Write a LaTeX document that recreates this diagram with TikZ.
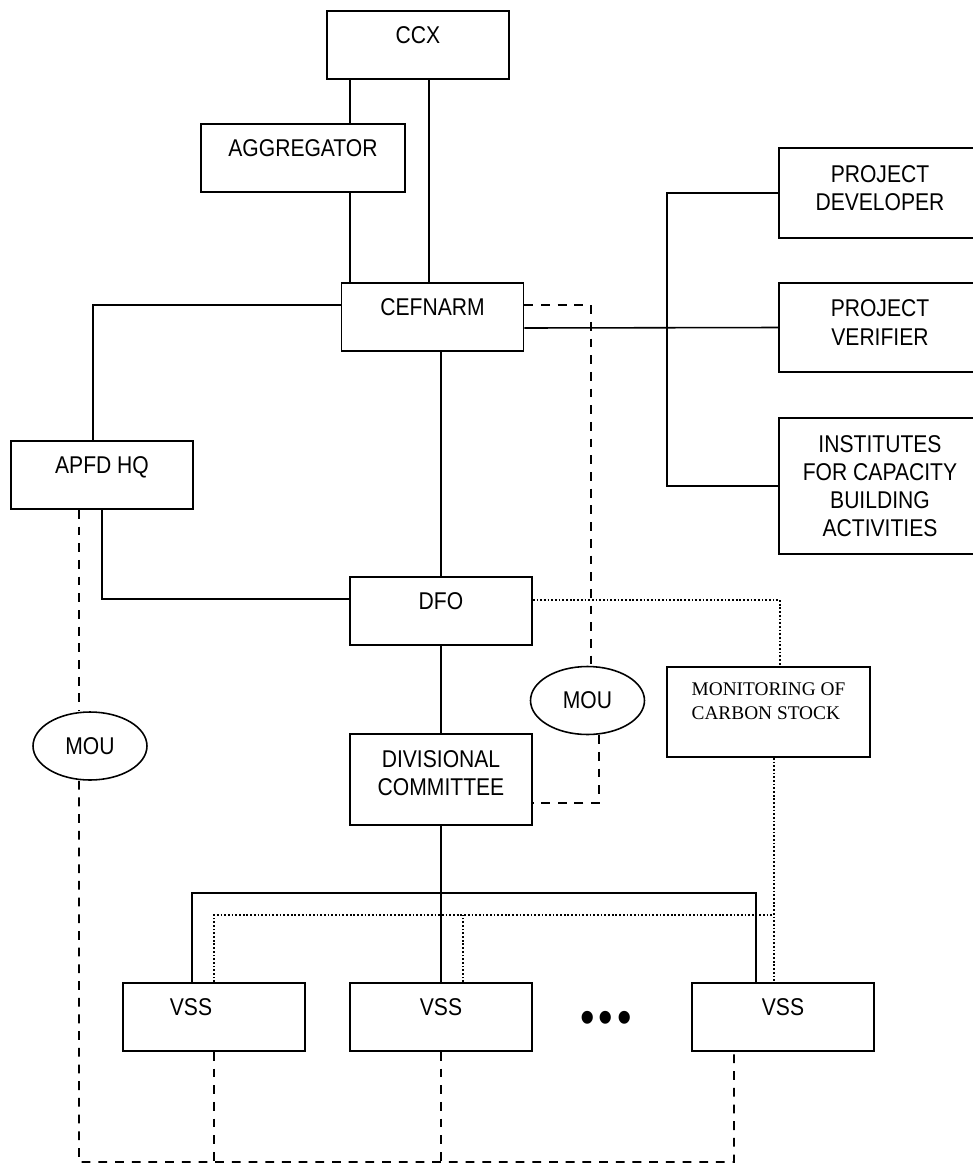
\documentclass[tikz,border=0pt]{standalone}
\usepackage{fontspec}
\setmainfont{Liberation Sans}[FakeStretch=0.87]
\newfontfamily\timesfont{Liberation Serif}
\usetikzlibrary{shapes.geometric}

\tikzset{
  box/.style={draw,line width=1pt,minimum width=3.64cm,minimum height=1.36cm,
    text height=0.72em,text depth=0.32cm},
  tallbox/.style={draw,line width=1pt,minimum width=3.64cm,align=center,text depth=0.2cm},
  mou/.style={draw,ellipse,line width=0.9pt,minimum width=2.28cm,minimum height=1.36cm,inner sep=0pt},
  moulink/.style={line width=1pt,dash pattern=on 5pt off 4.5pt},
  carbonlink/.style={line width=1pt,dash pattern=on 1pt off 1.1pt}
}

\begin{document}
\begin{tikzpicture}[x=0.02cm,y=-0.02cm,line width=0.9pt,font=\fontsize{13.8}{16}\selectfont]
\useasboundingbox (0,0) rectangle (973,1164);

\node [box] (ccx) at (418,45) {CCX};
\node [box,minimum width=4.08cm] (agg) at (303,158) {AGGREGATOR};
\node [box] (cef) at (432.5,317) {CEFNARM};
\node [box] (apfd) at (102,475) {APFD HQ};
\node [box] (dfo) at (441,611) {DFO};
\node [tallbox,minimum height=1.82cm,text depth=0.25cm] (div) at (441,779.5) {DIVISIONAL\\COMMITTEE};

\node [tallbox,minimum width=4.04cm,minimum height=1.8cm] (dev) at (880,193) {PROJECT\\DEVELOPER};
\node [tallbox,minimum width=4.04cm,minimum height=1.78cm] (ver) at (880,327.5) {PROJECT\\VERIFIER};
\node [tallbox,minimum width=4.04cm,minimum height=2.72cm,text depth=0pt] (inst) at (880,486) {INSTITUTES\\FOR CAPACITY\\BUILDING\\ACTIVITIES};

\node [mou] (mou1) at (90,746) {MOU};
\node [mou] (mou2) at (587.5,700.5) {MOU};
\node [tallbox,align=left,minimum width=4.06cm,minimum height=1.8cm,text depth=0.44cm,
  font=\timesfont\fontsize{11}{13.6}\selectfont] (mon) at (768.5,712) {MONITORING OF\\CARBON STOCK};

\node [box] (vss1) at (214,1017) {VSS\kern0.92cm};
\node [box] (vss2) at (441,1017) {VSS};
\node [box] (vss3) at (783,1017) {VSS};
\node [font=\fontsize{27}{27}\selectfont] (dots) at (606,1022) {•\kern2.4pt•\kern2.4pt•};

% solid lines
\coordinate (aggtop) at ([xshift=0.94cm]agg.north);
\coordinate (aggbot) at ([xshift=0.94cm]agg.south);
\coordinate (ccxbot) at ([xshift=0.22cm]ccx.south);
\draw (aggtop) -- (aggtop |- ccx.south);
\draw (aggbot) -- (aggbot |- cef.north);
\draw (ccxbot) -- (ccxbot |- cef.north);

\coordinate (apfdtop) at ([xshift=-0.18cm]apfd.north);
\draw ([yshift=0.24cm]cef.west) -| (apfdtop);
\draw (apfd.south) |- ([yshift=0.24cm]dfo.west);
\draw (dfo.north |- cef.south) -- (dfo.north);
\draw (dfo.south) -- (div.north);

\coordinate (trunk) at (667,0);
\draw ([yshift=-0.22cm]cef.east) -- (ver.west);
\draw (dev.west) -| (trunk |- inst.west) -- (inst.west);

\coordinate (bus) at (441,893);
\draw (div.south) -- (vss2.north);
\draw ([xshift=-0.44cm]vss1.north) |- (bus) -| ([xshift=-0.54cm]vss3.north);

% MOU links
\coordinate (apfddrop) at ([xshift=-0.46cm]apfd.south);
\draw [moulink] (apfddrop) -- (apfddrop |- mou1.north);
\draw [moulink] ([yshift=0.24cm]cef.east) -| ([xshift=0.07cm]mou2.north);
\draw [moulink] ([xshift=0.23cm]mou2.south) |- ([yshift=-0.47cm]div.east);

\coordinate (base) at (79,1162);
\draw [moulink] ([xshift=-0.22cm]mou1.south) -- (base) -| ([xshift=-0.98cm]vss3.south);
\draw [moulink] (vss1.south) -- (vss1.south |- base);
\draw [moulink] (vss2.south) -- (vss2.south |- base);

% carbon stock links
\coordinate (mondrop) at ([xshift=0.11cm]mon.south);
\coordinate (vss2drop) at ([xshift=0.44cm]vss2.north);
\coordinate (carbonbus) at (0,915);
\draw [carbonlink] ([yshift=0.22cm]dfo.east) -| ([xshift=0.23cm]mon.north);
\draw [carbonlink] (mondrop) -- (mondrop |- vss3.north);
\draw [carbonlink] (vss1.north) |- (mondrop |- carbonbus);
\draw [carbonlink] (vss2drop) -- (vss2drop |- carbonbus);
\end{tikzpicture}
\end{document}
